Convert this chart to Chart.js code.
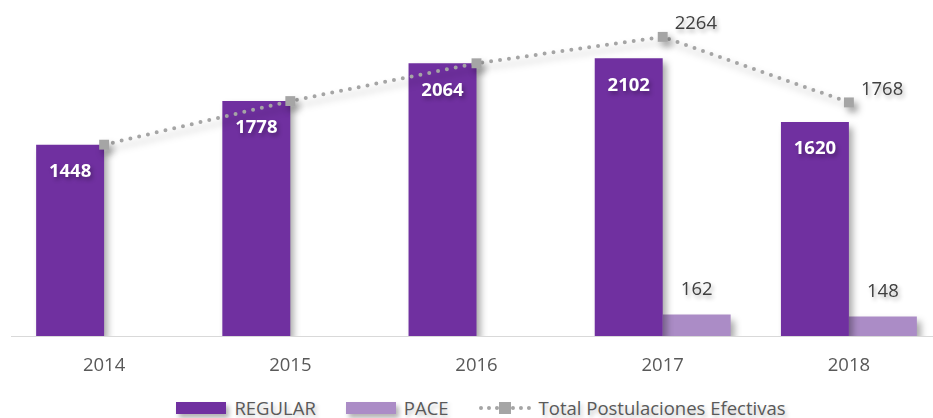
<!DOCTYPE html>
<html>
<head>
<meta charset="utf-8">
<script src="https://cdn.jsdelivr.net/npm/chart.js@4.4.0/dist/chart.umd.min.js"></script>
<style>
    html, body { margin: 0; padding: 0; background: #fff; overflow: hidden; }
    #wrap { position: relative; width: 960px; height: 418px; }
    #legend {
        position: absolute; left: 0; top: 395px; width: 962px;
        display: flex; justify-content: center; align-items: center;
        font-family: "Open Sans", sans-serif; font-size: 18.5px; color: #595959;
        text-shadow: 2px 3px 4px rgba(0,0,0,0.25);
    }
    .item { display: flex; align-items: center; margin: 0 15px; }
    .box { width: 50px; height: 12px; margin-right: 8px; box-shadow: 3px 4px 5px rgba(0,0,0,0.3); }
    .dots { position: relative; width: 52px; height: 12px; margin-right: 8px; }
    .dots .ln { position: absolute; left: 0; right: 0; top: 4px; border-top: 4px dotted #a5a5a5; }
    .dots .sq { position: absolute; left: 20px; top: 0; width: 12px; height: 12px; background: #a5a5a5; }
</style>
</head>
<body>
<div id="wrap">
    <canvas id="chart" width="960" height="386"></canvas>
    <div id="legend"></div>
</div>
<script>
const years = ['2014', '2015', '2016', '2017', '2018']
const regular = [1448, 1778, 2064, 2102, 1620]
const pace = [null, null, null, 162, 148]
const total = [1448, 1778, 2064, 2264, 1768]

const purple = '#7030a0'
const lilac = '#ab8cc6'
const grey = '#a5a5a5'

// shadow under bars and line, like the office chart
const shadowPlugin = {
    id: 'shadow',
    beforeDatasetDraw(chart, args) {
        const ctx = chart.ctx
        ctx.save()
        ctx.shadowColor = 'rgba(0,0,0,0.35)'
        ctx.shadowBlur = 7
        ctx.shadowOffsetX = 4
        ctx.shadowOffsetY = 5
    },
    afterDatasetDraw(chart) {
        chart.ctx.restore()
    }
}

const labelPlugin = {
    id: 'labels',
    afterDatasetsDraw(chart) {
        const ctx = chart.ctx
        ctx.save()
        ctx.textBaseline = 'middle'
        ctx.shadowColor = 'rgba(0,0,0,0.3)'
        ctx.shadowBlur = 4
        ctx.shadowOffsetX = 2
        ctx.shadowOffsetY = 3

        // regular: white bold inside the bar
        let meta = chart.getDatasetMeta(1)
        ctx.font = 'bold 18.5px "Open Sans", sans-serif'
        ctx.fillStyle = '#fff'
        ctx.textAlign = 'center'
        meta.data.forEach((bar, i) => {
            ctx.fillText(regular[i], bar.x, bar.y + 27)
        })

        // pace: above the bar
        ctx.font = '18.5px "Open Sans", sans-serif'
        ctx.fillStyle = '#404040'
        meta = chart.getDatasetMeta(2)
        meta.data.forEach((bar, i) => {
            if (pace[i] == null) return
            ctx.fillText(pace[i], bar.x, bar.y - 25)
        })

        // total: only where there is pace
        meta = chart.getDatasetMeta(0)
        ctx.textAlign = 'left'
        meta.data.forEach((pt, i) => {
            if (pace[i] == null) return
            ctx.fillText(total[i], pt.x + 12, pt.y - 13)
        })
        ctx.restore()
    }
}

const ctx = document.getElementById('chart').getContext('2d')
const myChart = new Chart(ctx, {
    type: 'bar',
    data: {
        labels: years,
        datasets: [{
            type: 'line',
            label: 'Total Postulaciones Efectivas',
            data: total,
            order: 0,
            borderColor: grey,
            borderWidth: 4,
            borderDash: [0, 9],
            borderCapStyle: 'round',
            fill: false,
            tension: 0,
            pointStyle: 'rect',
            pointRadius: 7,
            pointBackgroundColor: grey,
            pointBorderWidth: 0
        }, {
            label: 'REGULAR',
            data: regular,
            order: 1,
            backgroundColor: purple
        }, {
            label: 'PACE',
            data: pace,
            order: 2,
            backgroundColor: lilac
        }]
    },
    options: {
        responsive: false,
        animation: false,
        layout: { padding: { left: 11, right: 18, top: 0, bottom: 0 } },
        datasets: {
            bar: { categoryPercentage: 0.73, barPercentage: 1 }
        },
        plugins: {
            legend: { display: false },
            tooltip: { enabled: false }
        },
        scales: {
            x: {
                grid: { display: false },
                border: { display: true, color: '#d9d9d9', width: 1 },
                ticks: {
                    color: '#595959',
                    font: { family: 'Open Sans', size: 18.5 },
                    padding: 11
                },
                afterFit: (s) => { s.height = 50 }
            },
            y: {
                display: false,
                min: 0,
                max: 2490
            }
        }
    },
    plugins: [shadowPlugin, labelPlugin]
});

// html legend
const legend = document.getElementById('legend')
legend.innerHTML =
    '<div class="item"><div class="box" style="background:' + purple + '"></div>REGULAR</div>' +
    '<div class="item"><div class="box" style="background:' + lilac + '"></div>PACE</div>' +
    '<div class="item"><div class="dots"><div class="ln"></div><div class="sq"></div></div>Total Postulaciones Efectivas</div>'
</script>
</body>
</html>
